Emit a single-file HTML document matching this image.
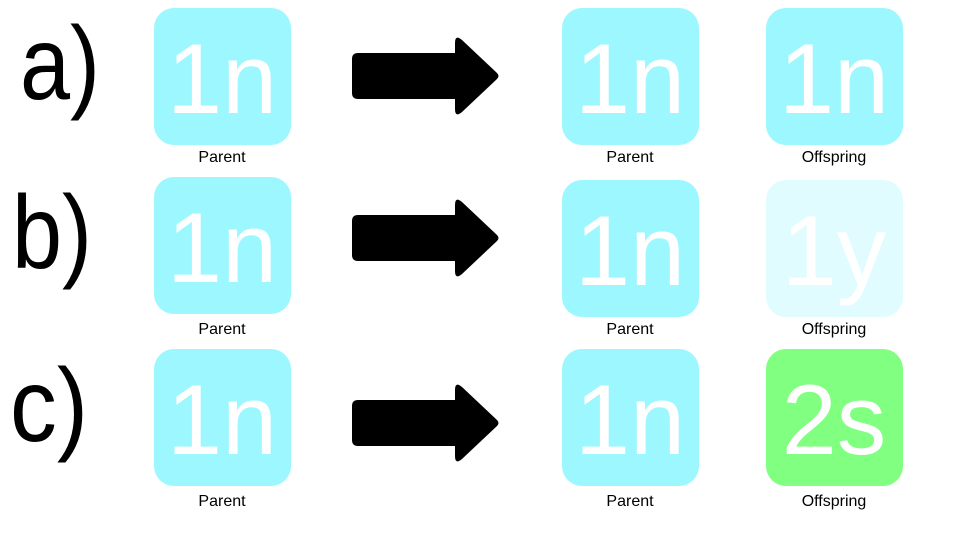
<!DOCTYPE html>
<html><head><meta charset="utf-8"><style>body{margin:0;background:#fff}svg{display:block}</style></head><body>
<svg width="960" height="540" viewBox="0 0 960 540" xmlns="http://www.w3.org/2000/svg" font-family="Liberation Sans, sans-serif">
<defs>
<g id="arr"><path d="M358 -23 H455 V-33 Q455 -42 462 -36 L497 -3 Q500 0 497 3 L462 36 Q455 42 455 33 V23 H358 Q352 23 352 17 V-17 Q352 -23 358 -23 Z" fill="#000"/></g>
</defs>
<g font-size="104" fill="#000">
<text x="20" y="99" textLength="80" lengthAdjust="spacingAndGlyphs">a)</text>
<text x="12" y="268" textLength="80" lengthAdjust="spacingAndGlyphs">b)</text>
<text x="10" y="441" textLength="78" lengthAdjust="spacingAndGlyphs">c)</text>
</g>
<use href="#arr" transform="translate(0,76)"/>
<use href="#arr" transform="translate(0,238)"/>
<use href="#arr" transform="translate(0,423)"/>
<g>
<rect x="154" y="8" width="137" height="137" rx="20" fill="#9df7ff"/>
<rect x="562" y="8" width="137" height="137" rx="20" fill="#9df7ff"/>
<rect x="766" y="8" width="137" height="137" rx="20" fill="#9df7ff"/>
<rect x="154" y="177" width="137" height="137" rx="20" fill="#9df7ff"/>
<rect x="562" y="180" width="137" height="137" rx="20" fill="#9df7ff"/>
<rect x="766" y="180" width="137" height="137" rx="20" fill="#e1fcff"/>
<rect x="154" y="349" width="137" height="137" rx="20" fill="#9df7ff"/>
<rect x="562" y="349" width="137" height="137" rx="20" fill="#9df7ff"/>
<rect x="766" y="349" width="137" height="137" rx="20" fill="#80ff80"/>
</g>
<g font-size="99" fill="#fff" text-anchor="middle">
<text x="222" y="113">1n</text>
<text x="630" y="113">1n</text>
<text x="834" y="113">1n</text>
<text x="222" y="282">1n</text>
<text x="630" y="285">1n</text>
<text x="834" y="285">1y</text>
<text x="222" y="454">1n</text>
<text x="630" y="454">1n</text>
<text x="834" y="454">2s</text>
</g>
<g font-size="16" fill="#000" text-anchor="middle">
<text x="222" y="162">Parent</text>
<text x="630" y="162">Parent</text>
<text x="834" y="162">Offspring</text>
<text x="222" y="334">Parent</text>
<text x="630" y="334">Parent</text>
<text x="834" y="334">Offspring</text>
<text x="222" y="506">Parent</text>
<text x="630" y="506">Parent</text>
<text x="834" y="506">Offspring</text>
</g>
</svg>
</body></html>
